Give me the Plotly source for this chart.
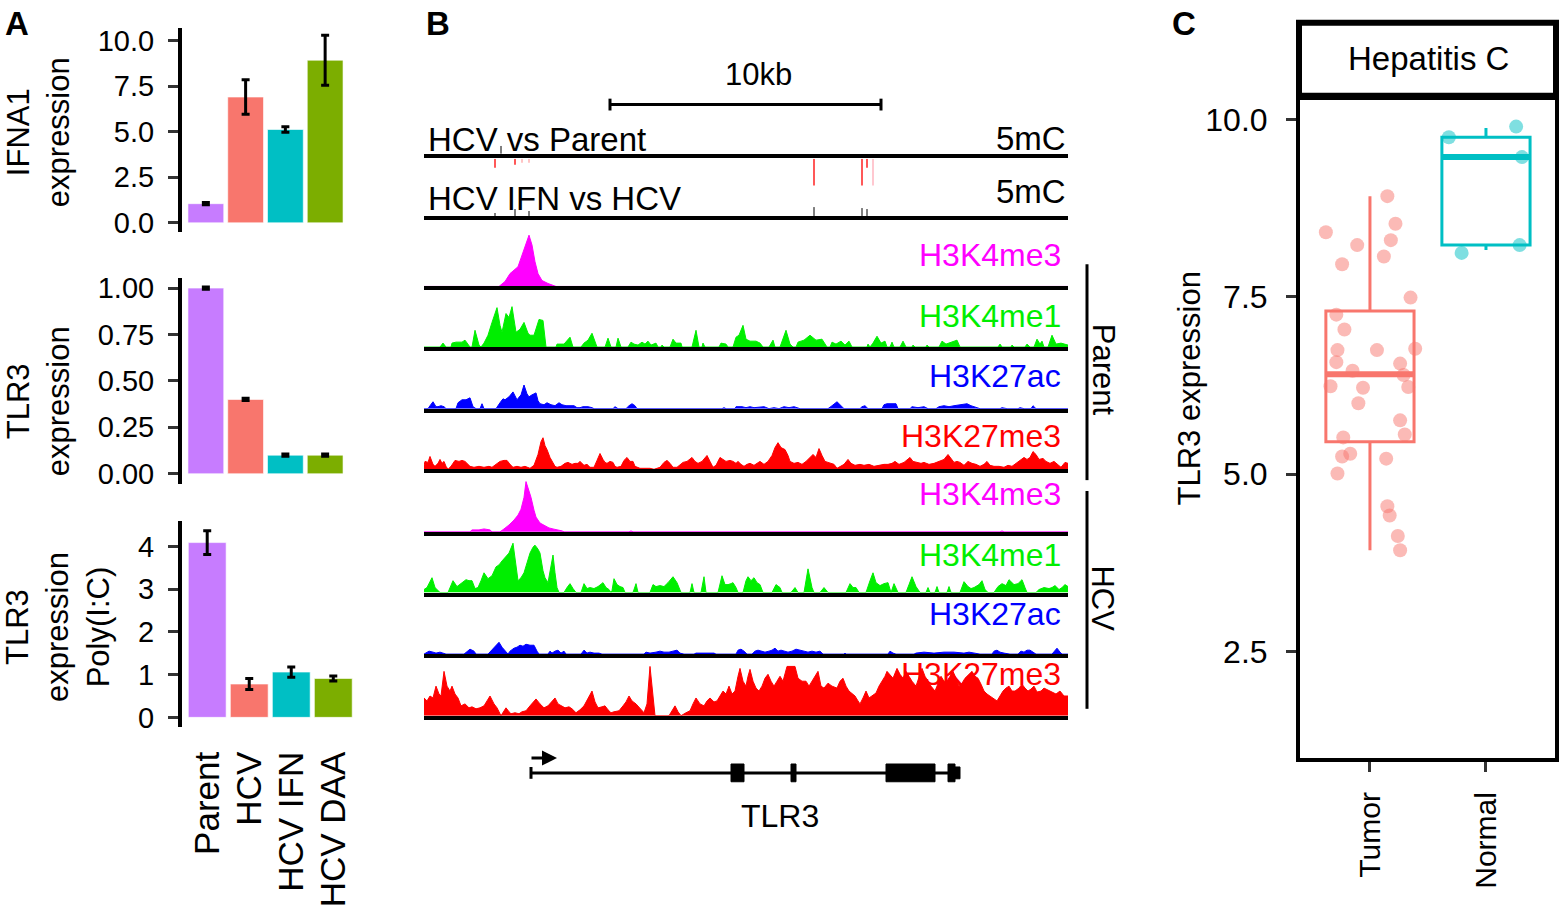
import plotly.graph_objects as go

W, H = 1561, 910
FONT = "Liberation Sans, Arial, Helvetica, sans-serif"


def fx(px):
    return px / W


def fy(px):
    return 1 - px / H


# ---------------- Panel A data ----------------
GROUPS = ["Parent", "HCV", "HCV IFN", "HCV DAA"]
GROUP_COLORS = ["#C77CFF", "#F8766D", "#00BFC4", "#7CAE00"]
IFNA1_MEAN = [1.05, 6.9, 5.12, 8.92]
IFNA1_ERR = [0.06, 0.95, 0.15, 1.37]
TLR3_MEAN = [1.0, 0.40, 0.10, 0.10]
TLR3_ERR = [0.006, 0.006, 0.006, 0.006]
POLYIC_MEAN = [4.09, 0.78, 1.06, 0.91]
POLYIC_ERR = [0.28, 0.13, 0.12, 0.06]

# ---------------- Panel B data (genomic position in window units, signal) ----------------
UNITS_PER_KB = 27.1
WINDOW = 644
PARENT_K4ME3 = [(0, 0), (75, 0), (81, 5), (86, 13), (94, 20), (99, 35), (102, 45), (105, 52), (108, 42),
                (111, 25), (114, 13), (118, 6), (124, 3), (130, 1), (132, 0), (644, 0)]
PARENT_K4ME1 = [(0, 0), (16, 0), (19, 4), (22, 0), (27, 0), (28, 4), (32, 5), (36, 5), (38, 5), (41, 7), (44, 3),
                (46, 0), (48, 0), (51, 17), (55, 2), (57, 0), (60, 4), (64, 12), (68, 25), (73, 40), (76, 22),
                (78, 15), (82, 34), (85, 30), (88, 41), (92, 15), (96, 18), (100, 25), (104, 14), (106, 12),
                (110, 12), (115, 28), (119, 27), (121, 10), (122, 0), (132, 0), (133, 3), (140, 3), (146, 10),
                (149, 0), (157, 0), (160, 4), (164, 7), (168, 14), (172, 4), (173, 0), (181, 0), (184, 9),
                (187, 0), (192, 0), (194, 9), (197, 0), (204, 0), (207, 5), (210, 3), (214, 2), (218, 5),
                (221, 3), (224, 6), (227, 2), (232, 4), (234, 0), (237, 0), (238, 2), (240, 0), (246, 0),
                (249, 8), (252, 4), (257, 4), (258, 0), (268, 0), (272, 17), (275, 0), (278, 0), (279, 4),
                (281, 0), (295, 0), (297, 4), (302, 3), (304, 0), (309, 0), (312, 10), (315, 12), (319, 22),
                (322, 8), (326, 6), (332, 6), (336, 4), (339, 0), (345, 0), (349, 7), (351, 0), (356, 0),
                (362, 17), (366, 3), (369, 0), (372, 0), (374, 5), (380, 7), (386, 12), (392, 7), (398, 8),
                (403, 0), (406, 0), (408, 5), (412, 3), (417, 6), (421, 2), (425, 6), (428, 0), (443, 0),
                (444, 3), (446, 0), (449, 4), (453, 11), (457, 4), (461, 6), (463, 0), (466, 0), (468, 5),
                (470, 0), (476, 0), (479, 6), (482, 0), (488, 0), (489, 2), (491, 0), (502, 0), (503, 2),
                (505, 0), (515, 0), (518, 6), (522, 3), (528, 5), (533, 7), (536, 0), (574, 0), (576, 3),
                (578, 0), (587, 0), (588, 2), (590, 0), (601, 0), (603, 3), (606, 0), (610, 0), (613, 8),
                (616, 3), (618, 6), (620, 0), (624, 0), (628, 12), (632, 3), (637, 4), (640, 3), (644, 2)]
PARENT_K27AC = [(0, 0), (4, 0), (6, 3), (9, 7), (12, 2), (14, 2), (17, 3), (20, 2), (22, 0), (32, 0), (34, 6),
                (38, 9), (42, 9), (46, 11), (49, 2), (52, 0), (56, 0), (58, 5), (60, 0), (72, 0), (76, 6),
                (79, 10), (81, 9), (85, 12), (89, 17), (93, 9), (97, 14), (100, 24), (103, 15), (105, 12),
                (108, 14), (112, 16), (114, 8), (116, 5), (120, 4), (123, 6), (127, 4), (131, 3), (135, 6),
                (138, 4), (142, 3), (146, 3), (150, 3), (153, 1), (156, 1), (159, 2), (164, 2), (168, 1),
                (170, 0), (189, 0), (191, 2), (194, 0), (202, 0), (205, 3), (208, 5), (211, 3), (213, 0),
                (298, 0), (300, 1), (302, 0), (311, 0), (312, 2), (318, 2), (322, 1), (326, 2), (330, 1),
                (340, 2), (345, 0), (350, 1), (355, 0), (360, 2), (365, 1), (370, 2), (376, 0), (404, 0),
                (408, 3), (413, 7), (417, 3), (420, 0), (436, 0), (438, 2), (441, 3), (444, 0), (458, 0),
                (460, 4), (463, 5), (468, 5), (472, 5), (474, 0), (486, 0), (488, 2), (494, 1), (500, 2),
                (504, 0), (512, 0), (515, 2), (520, 3), (525, 2), (530, 3), (536, 4), (540, 4), (543, 5),
                (547, 3), (551, 2), (556, 0), (576, 0), (578, 1), (583, 0), (594, 0), (596, 1), (600, 0),
                (607, 0), (609, 3), (612, 0), (644, 0)]
PARENT_K27ME3 = [(0, 4), (1, 8), (4, 7), (6, 13), (9, 5), (11, 3), (14, 6), (16, 10), (18, 6), (20, 8), (22, 3),
                 (24, 0), (27, 3), (31, 9), (35, 8), (38, 9), (41, 8), (44, 5), (46, 3), (50, 2), (55, 3),
                 (60, 2), (65, 3), (68, 2), (72, 5), (76, 8), (80, 9), (83, 9), (86, 5), (89, 2), (93, 3),
                 (97, 2), (101, 3), (106, 1), (110, 4), (114, 15), (117, 28), (119, 32), (121, 24), (123, 20),
                 (126, 12), (128, 8), (131, 3), (133, 2), (137, 3), (141, 6), (144, 7), (148, 5), (151, 6),
                 (154, 6), (156, 8), (160, 4), (163, 5), (166, 2), (170, 2), (173, 9), (176, 16), (179, 10),
                 (181, 7), (183, 6), (186, 8), (189, 7), (191, 3), (193, 2), (197, 3), (200, 9), (203, 12),
                 (206, 8), (209, 8), (211, 3), (213, 2), (216, 1), (222, 1), (226, 1), (230, 0), (236, 2),
                 (240, 7), (243, 9), (246, 6), (249, 2), (253, 2), (257, 5), (259, 7), (263, 8), (268, 12),
                 (271, 8), (274, 6), (278, 8), (281, 12), (283, 14), (286, 8), (289, 2), (292, 4), (296, 12),
                 (299, 10), (302, 8), (306, 9), (309, 8), (312, 6), (314, 8), (317, 5), (320, 3), (323, 5),
                 (326, 6), (330, 4), (333, 6), (336, 8), (340, 5), (344, 8), (348, 14), (351, 22), (354, 27),
                 (357, 22), (361, 20), (364, 14), (366, 8), (370, 6), (374, 7), (378, 5), (382, 8), (386, 12),
                 (389, 15), (392, 12), (395, 21), (398, 14), (401, 8), (404, 7), (407, 6), (410, 5), (413, 1),
                 (416, 3), (420, 5), (424, 10), (427, 6), (431, 4), (436, 5), (440, 4), (445, 5), (450, 3),
                 (455, 4), (460, 5), (464, 5), (468, 6), (471, 8), (475, 5), (480, 7), (483, 10), (486, 12),
                 (489, 8), (493, 7), (497, 6), (500, 7), (505, 5), (510, 6), (515, 8), (520, 10), (524, 15),
                 (527, 11), (530, 7), (533, 8), (536, 7), (540, 4), (544, 8), (548, 6), (552, 5), (556, 3),
                 (560, 5), (563, 8), (566, 4), (570, 3), (575, 3), (580, 2), (584, 4), (588, 3), (592, 6),
                 (596, 9), (600, 12), (603, 10), (606, 12), (609, 18), (612, 15), (615, 10), (619, 11),
                 (622, 8), (626, 6), (630, 8), (634, 4), (637, 2), (641, 7), (644, 6)]
HCV_K4ME3 = [(0, 0), (46, 0), (48, 2), (55, 2), (60, 3), (66, 2), (68, 0), (76, 0), (80, 3), (85, 7), (90, 12),
             (94, 17), (97, 23), (100, 35), (102, 51), (104, 45), (107, 35), (110, 22), (112, 15), (116, 9),
             (121, 6), (125, 4), (129, 3), (134, 2), (138, 1), (140, 0), (205, 0), (207, 1), (209, 0),
             (576, 0), (578, 1), (580, 0), (644, 0)]
HCV_K4ME1 = [(0, 3), (3, 5), (8, 15), (11, 5), (13, 3), (16, 0), (24, 0), (29, 12), (33, 6), (37, 9), (42, 13),
             (45, 12), (48, 12), (51, 4), (54, 5), (57, 12), (60, 20), (64, 14), (68, 17), (72, 26), (75, 28),
             (78, 32), (81, 35), (85, 40), (89, 50), (92, 25), (94, 12), (97, 15), (100, 20), (103, 30),
             (106, 40), (109, 46), (111, 48), (114, 44), (116, 40), (119, 22), (121, 15), (124, 10),
             (126, 20), (129, 38), (131, 20), (133, 5), (135, 0), (140, 0), (143, 5), (146, 9), (149, 4),
             (152, 0), (157, 0), (160, 9), (163, 4), (166, 5), (170, 4), (174, 6), (179, 10), (182, 5),
             (185, 3), (187, 0), (188, 2), (190, 14), (193, 8), (196, 6), (199, 5), (201, 0), (209, 0),
             (212, 9), (214, 0), (226, 0), (229, 8), (232, 6), (236, 7), (240, 6), (244, 10), (249, 16),
             (253, 10), (257, 0), (266, 0), (268, 9), (270, 0), (277, 0), (280, 16), (282, 0), (294, 0),
             (298, 17), (301, 8), (304, 8), (307, 9), (309, 10), (312, 5), (314, 0), (319, 0), (322, 12),
             (324, 16), (327, 12), (330, 15), (333, 10), (336, 8), (339, 0), (348, 0), (352, 8), (356, 5),
             (358, 0), (367, 0), (371, 5), (374, 0), (380, 0), (384, 24), (388, 5), (390, 0), (396, 0),
             (400, 5), (404, 0), (422, 0), (426, 9), (429, 5), (432, 5), (435, 0), (442, 0), (446, 12),
             (449, 20), (452, 10), (456, 7), (460, 9), (464, 10), (467, 0), (470, 9), (474, 0), (482, 0),
             (485, 8), (488, 16), (492, 6), (496, 0), (502, 0), (504, 5), (506, 0), (511, 0), (513, 6),
             (515, 0), (523, 0), (525, 6), (527, 0), (536, 0), (540, 11), (544, 6), (547, 4), (550, 5),
             (555, 8), (558, 12), (561, 3), (564, 0), (570, 0), (574, 6), (578, 9), (582, 7), (585, 13),
             (590, 8), (594, 9), (598, 13), (601, 5), (603, 0), (612, 0), (615, 3), (620, 5), (625, 4),
             (628, 5), (631, 7), (635, 3), (638, 5), (641, 8), (644, 6)]
HCV_K27AC = [(0, 0), (2, 1), (5, 3), (9, 2), (12, 1), (16, 2), (19, 1), (22, 0), (40, 0), (43, 3), (46, 5),
             (50, 3), (52, 0), (64, 0), (68, 4), (72, 9), (75, 12), (78, 7), (81, 3), (84, 0), (86, 3), (90, 6),
             (93, 7), (96, 9), (99, 8), (102, 10), (106, 9), (110, 9), (113, 3), (115, 0), (124, 0), (126, 3),
             (128, 1), (131, 3), (134, 4), (137, 1), (140, 3), (142, 0), (157, 0), (160, 4), (163, 1),
             (166, 2), (170, 1), (175, 1), (178, 0), (220, 0), (222, 2), (226, 1), (232, 2), (236, 3),
             (240, 2), (245, 2), (249, 3), (253, 4), (256, 1), (260, 0), (270, 0), (272, 1), (280, 1),
             (290, 1), (292, 0), (312, 0), (314, 4), (317, 5), (320, 3), (323, 0), (328, 0), (331, 3),
             (334, 4), (337, 3), (341, 2), (345, 3), (348, 4), (351, 6), (354, 3), (357, 4), (360, 3),
             (364, 2), (368, 3), (372, 5), (376, 4), (380, 3), (384, 2), (388, 3), (392, 2), (396, 3),
             (399, 0), (420, 0), (421, 1), (422, 0), (464, 0), (466, 3), (469, 1), (472, 0), (490, 0),
             (492, 1), (500, 2), (510, 1), (520, 2), (530, 2), (540, 1), (545, 2), (550, 1), (556, 0),
             (568, 0), (570, 3), (573, 4), (576, 2), (580, 1), (586, 0), (594, 0), (597, 3), (600, 2),
             (603, 4), (606, 4), (609, 2), (612, 0), (628, 0), (631, 4), (633, 6), (636, 2), (638, 0), (644, 0)]
HCV_K27ME3 = [(0, 18), (3, 15), (6, 20), (9, 18), (12, 30), (15, 22), (17, 20), (20, 45), (23, 30), (26, 25),
              (28, 30), (31, 22), (34, 18), (37, 10), (41, 12), (45, 8), (48, 9), (52, 7), (56, 8), (60, 10),
              (63, 15), (66, 20), (70, 12), (73, 8), (77, 0), (80, 5), (82, 8), (85, 4), (87, 2), (91, 3),
              (95, 2), (98, 4), (102, 5), (106, 10), (109, 14), (112, 17), (116, 12), (120, 8), (124, 10),
              (128, 14), (131, 18), (134, 12), (137, 10), (141, 8), (145, 9), (148, 7), (152, 3), (156, 6),
              (160, 10), (164, 17), (168, 25), (171, 14), (174, 8), (178, 9), (181, 10), (184, 6), (187, 3),
              (190, 4), (195, 5), (199, 10), (202, 14), (205, 20), (208, 15), (212, 12), (216, 8), (220, 3),
              (223, 12), (226, 50), (229, 20), (231, 0), (245, 0), (248, 5), (251, 10), (254, 4), (257, 0),
              (262, 3), (266, 5), (269, 12), (272, 18), (276, 12), (280, 10), (283, 15), (286, 18), (290, 14),
              (293, 15), (296, 20), (299, 25), (302, 22), (305, 30), (308, 22), (311, 25), (314, 40),
              (316, 48), (319, 35), (322, 30), (324, 40), (326, 47), (329, 35), (332, 28), (335, 25),
              (338, 30), (341, 38), (344, 42), (347, 35), (350, 30), (353, 35), (356, 40), (359, 35),
              (363, 50), (371, 50), (374, 38), (378, 35), (382, 35), (385, 30), (388, 35), (391, 40),
              (394, 45), (397, 30), (400, 28), (404, 33), (408, 30), (413, 28), (416, 35), (419, 38),
              (422, 30), (425, 25), (428, 22), (431, 20), (434, 15), (436, 12), (439, 18), (442, 25),
              (445, 18), (448, 20), (452, 23), (455, 30), (458, 35), (461, 40), (463, 45), (466, 42),
              (469, 38), (473, 48), (476, 42), (479, 38), (482, 45), (485, 40), (488, 35), (492, 30),
              (495, 40), (498, 48), (501, 40), (504, 35), (507, 30), (511, 25), (514, 32), (517, 40),
              (520, 35), (523, 35), (526, 40), (529, 45), (532, 38), (535, 30), (538, 33), (541, 38),
              (545, 42), (548, 45), (551, 40), (554, 38), (557, 32), (560, 25), (563, 22), (566, 20),
              (570, 17), (573, 15), (576, 20), (579, 25), (582, 28), (585, 30), (588, 25), (591, 25),
              (595, 28), (598, 32), (601, 28), (604, 25), (607, 27), (610, 30), (613, 24), (617, 25),
              (620, 28), (624, 26), (628, 24), (632, 22), (636, 25), (640, 20), (644, 20)]

MARKS = ["H3K4me3", "H3K4me1", "H3K27ac", "H3K27me3"]
MARK_COLORS = ["#FF00FF", "#00EE00", "#0000FF", "#FF0000"]
PARENT_TRACKS = [PARENT_K4ME3, PARENT_K4ME1, PARENT_K27AC, PARENT_K27ME3]
HCV_TRACKS = [HCV_K4ME3, HCV_K4ME1, HCV_K27AC, HCV_K27ME3]

# 5mC differential methylation marks
METH_DOWN_POS = [71, 91, 98, 105, 390, 438, 443, 449]
METH_DOWN_LEN = [9, 6, 4, 4, 27, 27, 9, 27]
METH_DOWN_COLOR = ["#FF2020", "#FF2020", "#FFB0B0", "#FFB0B0", "#FF2020", "#FF2020", "#FF2020", "#FFB6C1"]
METH_UP_POS = [71, 91, 105, 390, 438, 443]
METH_UP_LEN = [3, 7, 5, 9, 8, 7]
METH_TOP_POS = [77]
METH_TOP_LEN = [8]

# Gene model (window units)
SCALEBAR_START = 186
SCALEBAR_KB = 10
GENE_START, GENE_END = 107, 536
TLR3_EXONS = [(307, 320), (367, 372), (462, 511), (524, 531)]
TLR3_UTR = [(531, 536)]

# ---------------- Panel C data ----------------
TUMOR_VALUES = [8.92, 8.53, 8.41, 8.23, 8.30, 8.07, 7.96, 7.49, 7.25, 7.04, 6.75, 6.75, 6.77, 6.58, 6.56, 6.46,
                6.40, 6.24, 6.22, 6.23, 6.00, 5.76, 5.52, 5.56, 5.29, 5.25, 5.22, 5.01, 4.55, 4.42, 4.13, 3.93]
TUMOR_JITTER = [0.15, 0.22, -0.38, -0.11, 0.18, 0.12, -0.24, 0.35, -0.29, -0.22, -0.28, 0.06, 0.39, -0.29, 0.26,
                -0.15, 0.29, -0.34, -0.06, 0.33, -0.10, 0.26, -0.23, 0.30, -0.17, -0.24, 0.14, -0.28, 0.15, 0.17,
                0.24, 0.26]
NORMAL_VALUES = [9.75, 9.90, 9.47, 8.12, 8.23]
NORMAL_JITTER = [-0.32, 0.26, 0.31, -0.21, 0.29]
BOX_CATS = ["Tumor", "Normal"]
BOX_COLORS = ["#F8766D", "#00BFC4"]
BOX_Q1 = [5.46, 8.23]
BOX_MEDIAN = [6.41, 9.47]
BOX_Q3 = [7.30, 9.75]
BOX_LOW = [3.93, 8.16]
BOX_HIGH = [8.92, 9.88]
BOX_WIDTH = 0.76

fig = go.Figure()
layout = {}

# ---------------- Panel A ----------------
A_PANELS = [
    (IFNA1_MEAN, IFNA1_ERR, 1, (21.9, 229.4), [-0.51, 10.71], [0, 2.5, 5, 7.5, 10], ".1f", 349),
    (TLR3_MEAN, TLR3_ERR, 2, (276.2, 484.5), [-0.053, 1.053], [0, 0.25, 0.5, 0.75, 1.0], ".2f", 349),
    (POLYIC_MEAN, POLYIC_ERR, 3, (522.7, 731.2), [-0.22, 4.59], [0, 1, 2, 3, 4], "d", 358.5),
]
for mean, err, n, (top, bot), yr, tv, fmt, right in A_PANELS:
    sfx = "" if n == 1 else str(n)
    fig.add_trace(go.Bar(x=GROUPS, y=mean, width=0.9,
                         marker=dict(color=GROUP_COLORS, line=dict(width=1, color="rgba(255,255,255,0.6)")),
                         error_y=dict(type="data", array=err, color="black", thickness=3, width=4),
                         xaxis="x" + sfx, yaxis="y" + sfx, showlegend=False))
    layout["xaxis" + sfx] = dict(domain=[fx(182), fx(right)], range=[-0.6, 3.6], anchor="y" + sfx,
                                 showline=False, showgrid=False, zeroline=False,
                                 showticklabels=(n == 3), ticks="outside" if n == 3 else "", ticklen=10,
                                 tickcolor="rgba(0,0,0,0)", tickangle=-90,
                                 tickfont=dict(size=35, color="black", family=FONT))
    layout["yaxis" + sfx] = dict(domain=[fy(bot), fy(top)], range=yr, anchor="x" + sfx,
                                 showline=True, linewidth=4, linecolor="black", showgrid=False, zeroline=False,
                                 ticks="outside", ticklen=10, tickwidth=3, tickcolor="#333333",
                                 tickvals=tv, tickformat=fmt, ticklabelstandoff=8,
                                 tickfont=dict(size=29, color="black", family=FONT))

# ---------------- Panel B tracks ----------------
TRACK_LINE_PX = [286.5, 348, 410.5, 472, 535.5, 597, 659.5, 722]
all_tracks = PARENT_TRACKS + HCV_TRACKS
for i, track in enumerate(all_tracks):
    n = 4 + i
    color = MARK_COLORS[i % 4]
    pos = [p for p, _ in track]
    sig = [s for _, s in track]
    fig.add_trace(go.Scatter(x=pos, y=sig, mode="lines", fill="tozeroy", fillcolor=color,
                             line=dict(color=color, width=1), xaxis=f"x{n}", yaxis=f"y{n}",
                             showlegend=False, hoverinfo="skip"))
    base = TRACK_LINE_PX[i] - 2
    layout[f"xaxis{n}"] = dict(domain=[fx(424), fx(1068)], range=[0, WINDOW], anchor=f"y{n}",
                               showline=True, linewidth=4, linecolor="black", showticklabels=False,
                               ticks="", showgrid=False, zeroline=False)
    layout[f"yaxis{n}"] = dict(domain=[fy(base), fy(base - 55)], range=[0, 55], anchor=f"x{n}",
                               visible=False)

# 5mC tracks
layout["xaxis12"] = dict(domain=[fx(424), fx(1068)], range=[0, WINDOW], anchor="y12", showline=True,
                         linewidth=4, linecolor="black", showticklabels=False, ticks="", showgrid=False,
                         zeroline=False)
layout["yaxis12"] = dict(domain=[fy(150), fy(95)], range=[0, 55], anchor="x12", visible=False)
layout["xaxis13"] = dict(domain=[fx(424), fx(1068)], range=[0, WINDOW], anchor="y13", showline=True,
                         linewidth=4, linecolor="black", showticklabels=False, ticks="", showgrid=False,
                         zeroline=False)
layout["yaxis13"] = dict(domain=[fy(213), fy(155)], range=[0, 58], anchor="x13", visible=False)

for p, ln, c in zip(METH_DOWN_POS, METH_DOWN_LEN, METH_DOWN_COLOR):
    fig.add_trace(go.Scatter(x=[p, p], y=[58, 58 - ln], mode="lines", line=dict(color=c, width=1.5),
                             xaxis="x13", yaxis="y13", showlegend=False, hoverinfo="skip"))
for p, ln in zip(METH_UP_POS, METH_UP_LEN):
    fig.add_trace(go.Scatter(x=[p, p], y=[0, ln], mode="lines", line=dict(color="black", width=1),
                             xaxis="x13", yaxis="y13", showlegend=False, hoverinfo="skip"))
for p, ln in zip(METH_TOP_POS, METH_TOP_LEN):
    fig.add_trace(go.Scatter(x=[p, p], y=[0, ln], mode="lines", line=dict(color="black", width=1),
                             xaxis="x12", yaxis="y12", showlegend=False, hoverinfo="skip"))

# overlay axis for scale bar and gene model (y in pixel rows)
layout["xaxis14"] = dict(domain=[fx(424), fx(1068)], range=[0, WINDOW], anchor="y14", visible=False)
layout["yaxis14"] = dict(domain=[0, 1], range=[H, 0], anchor="x14", visible=False)
sb_end = SCALEBAR_START + SCALEBAR_KB * UNITS_PER_KB
fig.add_trace(go.Scatter(x=[SCALEBAR_START, sb_end, None, SCALEBAR_START, SCALEBAR_START, None, sb_end, sb_end],
                         y=[100, 100, None, 94, 106, None, 94, 106], mode="lines",
                         line=dict(color="black", width=3), xaxis="x14", yaxis="y14", showlegend=False,
                         hoverinfo="skip"))
fig.add_trace(go.Scatter(x=[GENE_START, GENE_END, None, GENE_START, GENE_START],
                         y=[778, 778, None, 772, 784], mode="lines",
                         line=dict(color="black", width=3), xaxis="x14", yaxis="y14", showlegend=False,
                         hoverinfo="skip"))
for s, e in TLR3_EXONS:
    fig.add_trace(go.Scatter(x=[s, e, e, s, s], y=[769, 769, 787, 787, 769], mode="lines", fill="toself",
                             fillcolor="black", line=dict(color="black", width=1), xaxis="x14", yaxis="y14",
                             showlegend=False, hoverinfo="skip"))
for s, e in TLR3_UTR:
    fig.add_trace(go.Scatter(x=[s, e, e, s, s], y=[772, 772, 784, 784, 772], mode="lines", fill="toself",
                             fillcolor="black", line=dict(color="black", width=1), xaxis="x14", yaxis="y14",
                             showlegend=False, hoverinfo="skip"))

# ---------------- Panel C ----------------
for k in range(2):
    xc = k + 1
    fig.add_trace(go.Box(x=[xc], q1=[BOX_Q1[k]], median=[BOX_MEDIAN[k]], q3=[BOX_Q3[k]],
                         lowerfence=[BOX_LOW[k]], upperfence=[BOX_HIGH[k]], width=BOX_WIDTH, whiskerwidth=0,
                         line=dict(color=BOX_COLORS[k], width=3), fillcolor="rgba(0,0,0,0)",
                         boxpoints=False, xaxis="x15", yaxis="y15", showlegend=False, hoverinfo="skip"))
    fig.add_trace(go.Scatter(x=[xc - BOX_WIDTH / 2, xc + BOX_WIDTH / 2], y=[BOX_MEDIAN[k], BOX_MEDIAN[k]],
                             mode="lines", line=dict(color=BOX_COLORS[k], width=6),
                             xaxis="x15", yaxis="y15", showlegend=False, hoverinfo="skip"))
fig.add_trace(go.Scatter(x=[1 + j for j in TUMOR_JITTER], y=TUMOR_VALUES, mode="markers",
                         marker=dict(color=BOX_COLORS[0], size=14, opacity=0.5, line=dict(width=0)),
                         xaxis="x15", yaxis="y15", showlegend=False, hoverinfo="skip"))
fig.add_trace(go.Scatter(x=[2 + j for j in NORMAL_JITTER], y=NORMAL_VALUES, mode="markers",
                         marker=dict(color=BOX_COLORS[1], size=14, opacity=0.5, line=dict(width=0)),
                         xaxis="x15", yaxis="y15", showlegend=False, hoverinfo="skip"))
layout["xaxis15"] = dict(domain=[fx(1300), fx(1555)], range=[0.397, 2.595], anchor="y15",
                         showline=True, mirror=True, linewidth=4, linecolor="black", showgrid=False,
                         zeroline=False, tickvals=[1, 2], ticktext=BOX_CATS, tickangle=-90,
                         ticks="outside", ticklen=10, tickwidth=3, tickcolor="#333333", ticklabelstandoff=8,
                         tickfont=dict(size=30, color="black", family=FONT))
layout["yaxis15"] = dict(domain=[fy(763), fy(95)], range=[1.0, 10.28], anchor="x15",
                         showline=True, mirror=True, linewidth=4, linecolor="black", showgrid=False,
                         zeroline=False, tickvals=[2.5, 5, 7.5, 10], tickformat=".1f",
                         ticks="outside", ticklen=10, tickwidth=3, tickcolor="#333333", ticklabelstandoff=12,
                         tickfont=dict(size=32, color="black", family=FONT))

# ---------------- Annotations & shapes ----------------
ann = []


def text(x, y, s, size=30, color="black", xanchor="center", angle=0, bold=False):
    ann.append(dict(x=fx(x), y=fy(y), xref="paper", yref="paper", text=("<b>%s</b>" % s) if bold else s,
                    showarrow=False, xanchor=xanchor, yanchor="middle", textangle=angle,
                    font=dict(size=size, color=color, family=FONT)))


text(17, 18, "A", size=33, bold=True)
text(438, 18, "B", size=33, bold=True)
text(1184, 18, "C", size=33, bold=True)

text(38, 128, "IFNA1<br>expression", size=31, angle=-90)
text(38, 401, "TLR3<br>expression", size=31, angle=-90)
text(58, 630, "TLR3<br>expression<br>Poly(I:C)", size=31, angle=-90)

text(758, 70, "10kb", size=31)
text(426, 135, "HCV vs Parent", size=33, xanchor="left")
text(1068, 134, "5mC", size=33, xanchor="right")
text(426, 195, "HCV IFN vs HCV", size=33, xanchor="left")
text(1068, 188, "5mC", size=33, xanchor="right")
LABEL_Y = [253, 314, 375, 436, 495, 557, 617, 678]
for i, yy in enumerate(LABEL_Y):
    text(1063, yy, MARKS[i % 4], size=32, color=MARK_COLORS[i % 4], xanchor="right")
text(1103, 369, "Parent", size=31, angle=90)
text(1103, 601, "HCV", size=31, angle=90)
text(780, 822, "TLR3", size=32)

text(1189, 388, "TLR3 expression", size=31, angle=-90)
text(1428, 53, "Hepatitis C", size=33)

# gene direction arrow
ann.append(dict(x=GENE_START + 26, y=763, ax=GENE_START - 1, ay=763, xref="x14", yref="y14", axref="x14",
                ayref="y14", text="", showarrow=True, arrowhead=2, arrowsize=1, arrowwidth=3,
                arrowcolor="black"))

shapes = [
    dict(type="line", xref="paper", yref="paper", x0=fx(1087), x1=fx(1087), y0=fy(262), y1=fy(481),
         line=dict(color="black", width=3)),
    dict(type="line", xref="paper", yref="paper", x0=fx(1087), x1=fx(1087), y0=fy(492), y1=fy(713),
         line=dict(color="black", width=3)),
    dict(type="rect", xref="paper", yref="paper", x0=fx(1299), x1=fx(1556), y0=fy(91), y1=fy(17),
         line=dict(color="black", width=6), fillcolor="white"),
]

fig.update_layout(width=W, height=H, margin=dict(l=0, r=0, t=0, b=0), paper_bgcolor="white",
                  plot_bgcolor="rgba(0,0,0,0)", showlegend=False, annotations=ann, shapes=shapes,
                  font=dict(family=FONT, color="black"), bargap=0.1, **layout)

fig.write_html("out.html", config={"displayModeBar": False, "staticPlot": True})

# remove the default page margin so the figure sits at the top-left corner of the window
with open("out.html", "r", encoding="utf-8") as f:
    html = f.read()
html = html.replace("<body>", '<body style="margin:0;padding:0;overflow:hidden;">', 1)
with open("out.html", "w", encoding="utf-8") as f:
    f.write(html)
